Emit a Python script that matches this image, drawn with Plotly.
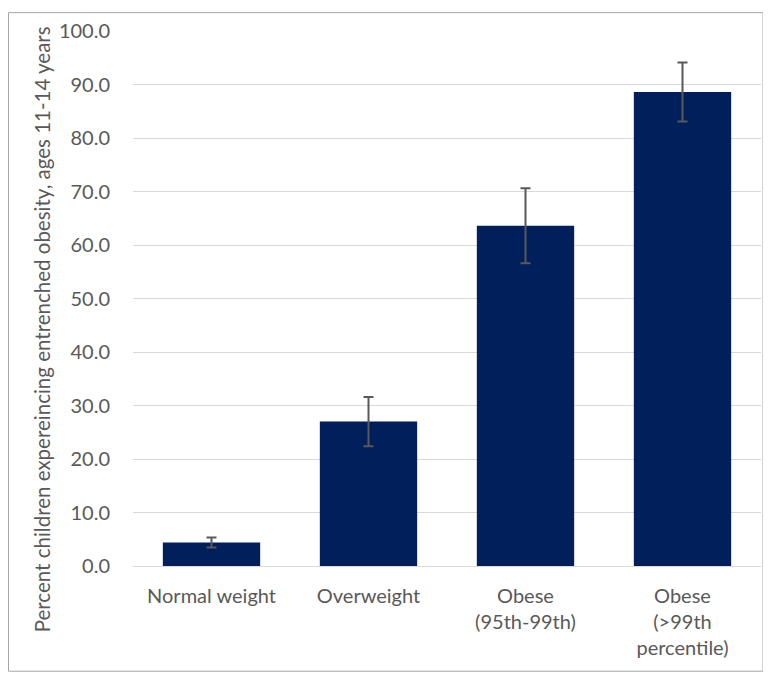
import plotly.graph_objects as go

categories = ["Normal weight", "Overweight", "Obese<br>(95th-99th)", "Obese<br>(>99th<br>percentile)"]
values = [4.4, 27.0, 63.6, 88.6]
errors = [0.95, 4.6, 7.0, 5.5]
y_ticks = [0, 10, 20, 30, 40, 50, 60, 70, 80, 90, 100]
y_tick_labels = [f"{v:.1f}" for v in y_ticks]
y_title = "Percent children expereincing entrenched obesity, ages 11-14 years"

# page has an 8px body margin; figure sized to fit
W, H = 763, 672
L, R, T, B = 125, 10, 19, 114
pw, ph = W - L - R, H - T - B

fig = go.Figure(go.Bar(
    x=categories, y=values,
    marker=dict(color="#001f5b", line=dict(width=0)),
    error_y=dict(type="data", array=errors, visible=True, color="#595959", thickness=2, width=5),
    width=0.62,
))

def px_x(p):
    return (p - L) / pw

def px_y(p):
    return (H - B - p) / ph

fig.add_shape(type="rect", xref="paper", yref="paper",
              x0=px_x(0.5), x1=px_x(755), y0=px_y(664), y1=px_y(0.5),
              line=dict(color="#a6a6a6", width=1), fillcolor="rgba(0,0,0,0)", layer="below")

fig.add_annotation(text=y_title, xref="paper", yref="paper",
                   x=px_x(33.5), y=px_y(320), textangle=-90, showarrow=False,
                   xanchor="center", yanchor="middle",
                   font=dict(size=20.5, color="#595959"))

fig.update_layout(
    width=W, height=H,
    margin=dict(l=L, r=R, t=T, b=B, pad=0),
    plot_bgcolor="white", paper_bgcolor="white",
    font=dict(family="Lato, Open Sans, sans-serif", color="#595959", size=20),
    showlegend=False,
    xaxis=dict(showgrid=False, showline=True, linecolor="#d9d9d9", linewidth=1,
               ticks="", ticklabelstandoff=12, tickfont=dict(size=20, color="#595959")),
    yaxis=dict(range=[0, 100], tickvals=y_ticks, ticktext=y_tick_labels,
               showgrid=True, gridcolor="#d9d9d9", gridwidth=1, zeroline=False,
               showline=False, ticks="", ticklabelstandoff=22,
               tickfont=dict(size=20, color="#595959")),
)

fig.write_html("out.html")
